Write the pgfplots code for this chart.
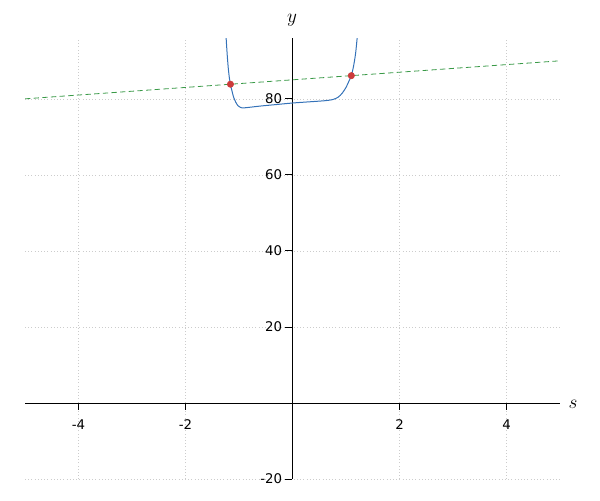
\documentclass[border=0pt]{standalone}
\usepackage{fontspec}
\setmainfont{DejaVu Sans}
\usepackage{pgfplots}
\pgfplotsset{compat=1.18}
\definecolor{cblue}{HTML}{3472B8}
\definecolor{cred}{HTML}{CC3B3B}
\definecolor{cgreen}{HTML}{3A9A48}
\begin{document}
\begin{tikzpicture}[x=1pt,y=1pt]
\useasboundingbox (-18.75pt,-15.75pt) rectangle (431.25pt,359.25pt);
\begin{axis}[
  at={(0pt,0pt)}, anchor=south west,
  scale only axis, width=401.25pt, height=330.75pt,
  xmin=-5, xmax=5, ymin=-20, ymax=96,
  axis lines=middle,
  axis line style={-, black, line width=0.6pt},
  xtick={-4,-2,2,4}, ytick={-20,20,40,60,80},
  xticklabels={-4,-2,2,4}, yticklabels={-20,20,40,60,80},
  tick align=outside, major tick length=5.25pt,
  tick style={black, line width=0.6pt},
  grid=major,
  major grid style={dotted, gray!40, line width=0.4pt},
  tick label style={font=\fontsize{10}{12}\selectfont},
  xticklabel style={yshift=-4pt},
  yticklabel style={xshift=1pt},
  /pgf/number format/assume math mode=true,
  clip=true,
]
\addplot[cgreen, line width=0.6pt, dash pattern=on 4pt off 2.5pt] coordinates {(-5,80) (5,90)};
\addplot[cblue, line width=0.75pt, smooth, tension=0.45] coordinates {
(-1.245,97) (-1.22,91.5) (-1.20,88) (-1.18,85.5) (-1.16,83.8) (-1.13,82) (-1.10,80.4)
(-1.06,79.1) (-1.02,78.2) (-0.98,77.8) (-0.94,77.6) (-0.85,77.7) (-0.6,78.1)
(-0.3,78.5) (0,78.9) (0.3,79.2) (0.6,79.5) (0.75,79.8) (0.85,80.4) (0.93,81.5)
(1.0,83.0) (1.05,84.5) (1.10,86.1) (1.14,88.5) (1.18,92) (1.215,97)};
\addplot[only marks, mark=*, mark size=2.4pt, color=cred] coordinates {(-1.16,83.84) (1.10,86.1)};
\end{axis}
\node[font=\fontsize{14}{16}\selectfont] at (411pt,56pt) {$s$};
\node[font=\fontsize{14}{16}\selectfont] at (200.25pt,344pt) {$y$};
\end{tikzpicture}
\end{document}
